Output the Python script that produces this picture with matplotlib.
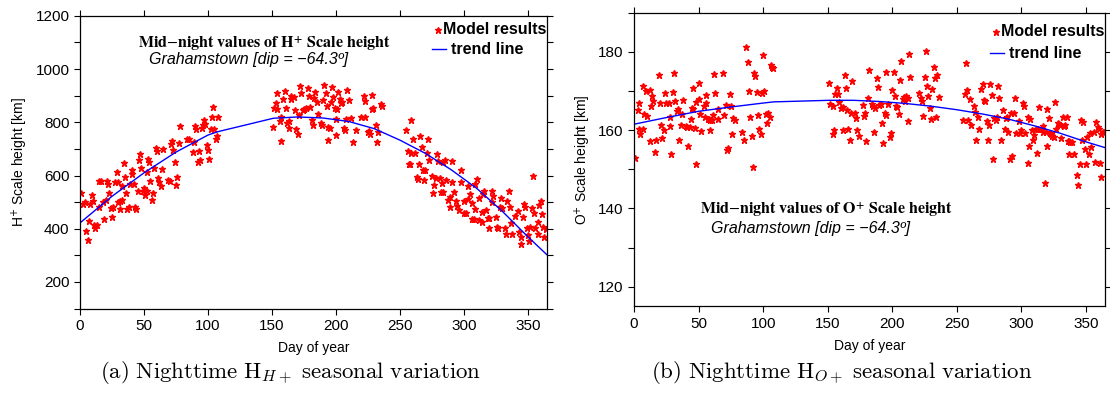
import matplotlib
matplotlib.use("Agg")
import matplotlib.pyplot as plt
from matplotlib.ticker import MultipleLocator, FixedLocator

# ---- H+ scale height, model results (day of year, km) ----
h_days = [1, 2, 4, 5, 6, 7, 8, 9, 10, 11, 12, 13, 15, 15, 16, 18, 19, 20, 21, 22, 23, 24, 25, 26, 27,
          29, 30, 30, 31, 31, 33, 33, 34, 35, 36, 37, 38, 39, 41, 41, 42, 43, 44, 45, 46, 47, 48, 49,
          50, 51, 52, 52, 53, 54, 55, 56, 57, 58, 59, 60, 61, 62, 63, 64, 65, 69, 70, 71, 72, 73, 74,
          75, 76, 77, 78, 84, 85, 88, 89, 90, 91, 92, 93, 94, 95, 96, 97, 98, 99, 100, 101, 102, 103,
          104, 105, 106, 107, 108,
          151, 152, 153, 154, 154, 156, 157, 157, 159, 160, 161, 162, 163, 163, 165, 165, 167, 168,
          169, 170, 171, 172, 173, 174, 175, 177, 178, 179, 180, 181, 182, 183, 184, 185, 186, 188,
          189, 190, 191, 192, 193, 194, 194, 195, 196, 197, 198, 199, 200, 200, 201, 202, 203, 204,
          205, 206, 207, 208, 209, 210, 212, 213, 216, 220, 222, 223, 223, 225, 226, 227, 228, 228,
          229, 231, 232, 233, 235, 236,
          255, 256, 257, 258, 259, 259, 260, 262, 263, 264, 265, 266, 267, 268, 269, 270, 271, 272,
          273, 275, 276, 277, 278, 279, 280, 281, 282, 283, 284, 284, 285, 286, 288, 289, 289, 291,
          291, 292, 294, 295, 296, 298, 298, 300, 300, 302, 303, 303, 305, 306, 306, 308, 309, 310,
          309, 312, 316, 315, 312, 314, 314, 317, 319, 320, 320, 322, 323, 322, 325, 326, 327, 328,
          329, 330, 332, 333, 334, 335, 336, 337, 338, 340, 342, 343, 345, 345, 346, 347, 348, 349,
          350, 351, 352, 353, 354, 355, 356, 358, 358, 359, 360, 361, 362, 363, 364]
h_vals = [534, 492, 502, 391, 357, 429, 492, 527, 506, 414, 401, 414, 483, 578, 578, 500, 435, 508, 580,
          569, 536, 479, 445, 483, 575, 613, 575, 502, 505, 474, 508, 561, 647, 593, 536, 473, 483, 568,
          619, 606, 568, 483, 474, 542, 660, 679, 628, 542, 552, 527, 542, 613, 662, 650, 580, 509, 536,
          628, 702, 691, 590, 575, 561, 624, 700, 584, 578, 720, 729, 694, 651, 563, 593, 723, 786, 736,
          736, 689, 727, 786, 774, 651, 691, 660, 777, 790, 809, 793, 714, 694, 662, 776, 820, 858, 776,
          737, 748, 818,
          782, 855, 871, 849, 909, 803, 729, 818, 887, 916, 853, 799, 777, 803, 887, 900, 896, 846, 776,
          755, 828, 938, 909, 846, 849, 853, 929, 900, 856, 809, 790, 891, 912, 875, 830, 799, 789, 885,
          940, 909, 862, 732, 784, 777, 875, 934, 896, 852, 752, 814, 849, 912, 887, 871, 875, 780, 771,
          811, 921, 883, 815, 726, 772, 818, 897, 880, 818, 763, 767, 755, 904, 849, 853, 790, 726, 763,
          868, 862,
          770, 692, 643, 642, 808, 683, 736, 683, 594, 588, 645, 748, 708, 622, 585, 620, 685, 738, 660,
          599, 534, 563, 590, 679, 656, 590, 539, 573, 537, 651, 659, 584, 507, 518, 481, 653, 574, 539,
          503, 486, 470, 621, 577, 505, 460, 459, 559, 513, 532, 498, 438, 438, 473, 588, 569, 515, 540,
          530, 432, 426, 464, 470, 439, 441, 401, 542, 523, 502, 445, 407, 401, 483, 515, 479, 401, 380,
          504, 540, 483, 420, 380, 449, 467, 388, 344, 369, 443, 493, 482, 403, 378, 353, 407, 479, 599,
          458, 403, 381, 426, 489, 504, 455, 407, 369, 398]

# ---- O+ scale height, model results (day of year, km) ----
o_days = [1, 3, 4, 4, 5, 7, 7, 8, 9, 10, 12, 12, 13, 14, 15, 16, 17, 19, 20, 21, 22, 23, 24, 25, 27, 28,
          28, 29, 30, 31, 32, 33, 34, 35, 36, 37, 38, 40, 41, 42, 43, 44, 45, 46, 46, 47, 48, 48, 50, 50,
          51, 52, 54, 55, 56, 56, 57, 58, 59, 60, 59, 61, 62, 63, 65, 65, 69, 70, 71, 72, 73, 74, 75, 76,
          77, 78, 84, 85, 87, 88, 89, 90, 91, 92, 93, 94, 95, 96, 97, 98, 99, 100, 101, 102, 103, 104,
          105, 106, 107, 108,
          151, 152, 154, 154, 155, 156, 157, 158, 159, 160, 162, 162, 163, 164, 165, 166, 167, 168, 169,
          171, 172, 173, 174, 177, 178, 179, 180, 181, 182, 184, 185, 186, 187, 188, 189, 190, 191, 192,
          193, 194, 195, 195, 197, 198, 199, 200, 201, 202, 203, 204, 205, 206, 207, 208, 209, 210, 211,
          212, 212, 213, 214, 221, 222, 223, 224, 225, 226, 227, 228, 229, 230, 231, 232, 233, 234, 235,
          236,
          255, 256, 257, 258, 259, 260, 261, 263, 264, 265, 266, 267, 269, 270, 271, 272, 273, 274, 275,
          276, 277, 278, 279, 280, 281, 282, 283, 284, 286, 287, 288, 289, 290, 291, 292, 293, 294, 295,
          296, 298, 299, 300, 301, 302, 303, 305, 305, 306, 307, 308, 309, 310, 311, 312, 313, 314, 315,
          316, 317, 317, 318, 319, 320, 320, 321, 322, 323, 324, 325, 326, 327, 328, 329, 330, 331, 332,
          333, 334, 335, 336, 337, 337, 338, 339, 341, 343, 344, 345, 346, 347, 348, 349, 350, 351, 352,
          353, 354, 356, 357, 358, 359, 360, 361, 362, 362, 363, 364]
o_vals = [153.0, 165.1, 166.8, 160.2, 158.9, 160.2, 171.3, 164.1, 170.1, 163.7, 157.2, 170.2, 166.2,
          168.8, 167.4, 154.3, 157.5, 174.1, 166.8, 161.3, 158.1, 160.0, 169.4, 166.8, 166.8, 161.1,
          163.4, 153.9, 169.6, 174.6, 167.4, 165.0, 165.4, 157.6, 161.3, 164.0, 167.8, 161.1, 160.7,
          155.9, 160.7, 162.8, 165.6, 165.4, 170.7, 160.5, 167.1, 151.4, 167.9, 171.9, 164.1, 159.8,
          166.2, 163.3, 166.8, 168.9, 162.8, 162.8, 162.6, 162.5, 160.0, 163.9, 174.2, 169.5, 165.4,
          162.9, 174.6, 163.9, 166.4, 154.8, 155.4, 169.2, 166.2, 158.9, 163.2, 162.6, 159.5, 157.5,
          181.3, 177.5, 170.1, 163.4, 158.5, 150.7, 174.5, 173.9, 169.8, 163.9, 160.3, 158.9, 169.4,
          179.2, 170.1, 164.1, 161.9, 164.3, 163.4, 176.6, 176.0, 175.8,
          172.1, 166.6, 166.1, 159.0, 160.1, 169.1, 170.7, 169.1, 167.1, 165.7, 160.1, 166.0, 174.1,
          170.7, 165.1, 160.4, 157.6, 164.3, 172.5, 164.4, 163.2, 159.9, 158.4, 166.4, 163.7, 164.3,
          157.2, 168.3, 175.3, 166.6, 166.2, 159.4, 165.7, 173.2, 171.1, 166.4, 166.6, 161.7, 156.8,
          164.3, 163.9, 174.7, 166.6, 158.3, 159.3, 170.2, 174.9, 168.7, 166.1, 165.8, 164.2, 172.9,
          177.6, 167.9, 168.5, 167.4, 168.7, 162.4, 168.1, 179.4, 173.6, 169.5, 168.3, 167.5, 163.6,
          173.6, 180.3, 171.2, 168.8, 165.6, 162.8, 170.4, 176.2, 173.2, 163.4, 174.1, 168.4,
          162.7, 169.1, 177.0, 170.2, 162.6, 167.9, 161.3, 166.2, 164.5, 157.5, 163.4, 160.4, 170.5,
          171.7, 167.7, 167.5, 162.4, 157.5, 161.3, 171.8, 168.9, 152.5, 163.2, 162.6, 163.4, 171.3,
          168.3, 157.5, 165.1, 160.4, 163.2, 163.4, 159.6, 152.5, 164.4, 153.4, 164.3, 168.1, 159.2,
          162.4, 159.3, 160.0, 166.8, 166.1, 159.2, 163.4, 151.5, 155.9, 162.8, 160.0, 157.6, 158.7,
          160.4, 154.1, 160.4, 165.9, 160.2, 160.3, 161.1, 159.6, 146.6, 159.6, 156.0, 165.4, 163.0,
          159.2, 158.9, 158.6, 158.3, 167.2, 160.3, 161.7, 161.6, 161.3, 157.9, 163.4, 161.0, 161.3,
          163.3, 157.2, 157.2, 153.8, 157.0, 157.0, 153.8, 148.5, 146.0, 151.3, 162.6, 157.5, 162.1,
          155.3, 151.4, 158.3, 153.8, 159.2, 155.8, 159.6, 151.8, 162.1, 160.9, 160.4, 151.5, 158.9,
          148.1, 159.6, 159.4]

# ---- trend lines ----
trend_days = [0, 25, 50, 75, 100, 108, 151, 170, 190, 210, 230, 250, 270, 290, 310, 330, 350, 365]
h_trend = [422, 522, 610, 688, 752, 765, 815, 820, 816, 803, 776, 733, 683, 622, 552, 466, 370, 302]
o_trend = [161.5, 163.2, 164.8, 165.9, 166.9, 167.2, 167.6, 167.6, 167.3, 166.8, 166.1, 165.2,
           164.1, 162.8, 161.1, 159.2, 157.0, 155.5]

plt.rcParams['font.family'] = ['Liberation Sans', 'DejaVu Sans']

W, H = 1110, 401
fig = plt.figure(figsize=(W / 100, H / 100), dpi=100)
ax1 = fig.add_axes([0.0721, 0.2304, 0.4207, 0.7302])
ax2 = fig.add_axes([0.5712, 0.2357, 0.4246, 0.7331])


def px(x, y):
    # pixel position (from top-left) -> figure fraction
    return x / W, 1 - y / H


def style_axes(ax):
    ax.tick_params(which='both', direction='out', length=4, width=0.8, labelsize=11,
                   top=True, right=True, labeltop=False, labelright=False)
    for sp in ax.spines.values():
        sp.set_linewidth(0.9)
    ax.set_xlim(0, 365)
    ax.xaxis.set_major_locator(MultipleLocator(50))
    ax.set_xlabel('Day of year', fontsize=10, labelpad=6)


def add_legend(x0, y0, y1):
    # hand-placed legend, like the original: star then label, short line then label
    sx, sy = px(x0 - 5.5, y0)
    fig.lines.append(plt.Line2D([sx], [sy], transform=fig.transFigure, color='red',
                                marker='*', markersize=5, linestyle='none'))
    fig.text(*px(x0, y0), 'Model results', ha='left', va='center',
             fontsize=11.5, fontweight='bold')
    ax_, ay_ = px(x0 - 11, y1)
    bx_, _ = px(x0 + 3, y1)
    fig.lines.append(plt.Line2D([ax_, bx_], [ay_, ay_], transform=fig.transFigure,
                                color='blue', linewidth=1))
    fig.text(*px(x0 + 8, y1), 'trend line', ha='left', va='center',
             fontsize=11.5, fontweight='bold')


# left panel: H+
ax1.plot(h_days, h_vals, linestyle='none', marker='*', color='red', markersize=5)
ax1.plot(trend_days, h_trend, color='blue', linewidth=1)
style_axes(ax1)
ax1.set_ylim(100, 1200)
ax1.yaxis.set_major_locator(MultipleLocator(200))
ax1.yaxis.set_minor_locator(MultipleLocator(100))
ax1.set_ylabel('H$^{+}$ Scale height [km]', fontsize=10, labelpad=4)
ax1.text(0.396, 0.905, r'Mid$-$night values of H$^{\mathbf{+}}$ Scale height',
         transform=ax1.transAxes, ha='center', va='center', fontsize=11.5,
         fontweight='bold', family='STIXGeneral', math_fontfamily='stix')
ax1.text(0.36, 0.851, 'Grahamstown [dip = \u221264.3\u00ba]', transform=ax1.transAxes,
         ha='center', va='center', fontsize=11.5, style='italic')
add_legend(443, 30, 49)

# right panel: O+
ax2.plot(o_days, o_vals, linestyle='none', marker='*', color='red', markersize=5)
ax2.plot(trend_days, o_trend, color='blue', linewidth=1)
style_axes(ax2)
ax2.set_ylim(115, 190)
ax2.yaxis.set_major_locator(FixedLocator([120, 140, 160, 180]))
ax2.yaxis.set_minor_locator(FixedLocator([130, 150, 170, 190]))
ax2.set_ylabel('O$^{+}$ Scale height [km]', fontsize=10, labelpad=4)
ax2.text(0.408, 0.332, r'Mid$-$night values of O$^{\mathbf{+}}$ Scale height',
         transform=ax2.transAxes, ha='center', va='center', fontsize=11.5,
         fontweight='bold', family='STIXGeneral', math_fontfamily='stix')
ax2.text(0.374, 0.264, 'Grahamstown [dip = \u221264.3\u00ba]', transform=ax2.transAxes,
         ha='center', va='center', fontsize=11.5, style='italic')
add_legend(1001, 32, 53)

# sub-captions
fig.text(*px(291, 373), r'$\mathrm{(a)\ Nighttime\ H}_{H+}\mathrm{\ seasonal\ variation}$',
         ha='center', va='center', fontsize=16.5, math_fontfamily='cm')
fig.text(*px(842, 373), r'$\mathrm{(b)\ Nighttime\ H}_{O+}\mathrm{\ seasonal\ variation}$',
         ha='center', va='center', fontsize=16.5, math_fontfamily='cm')

fig.savefig('out.png', dpi=100)
